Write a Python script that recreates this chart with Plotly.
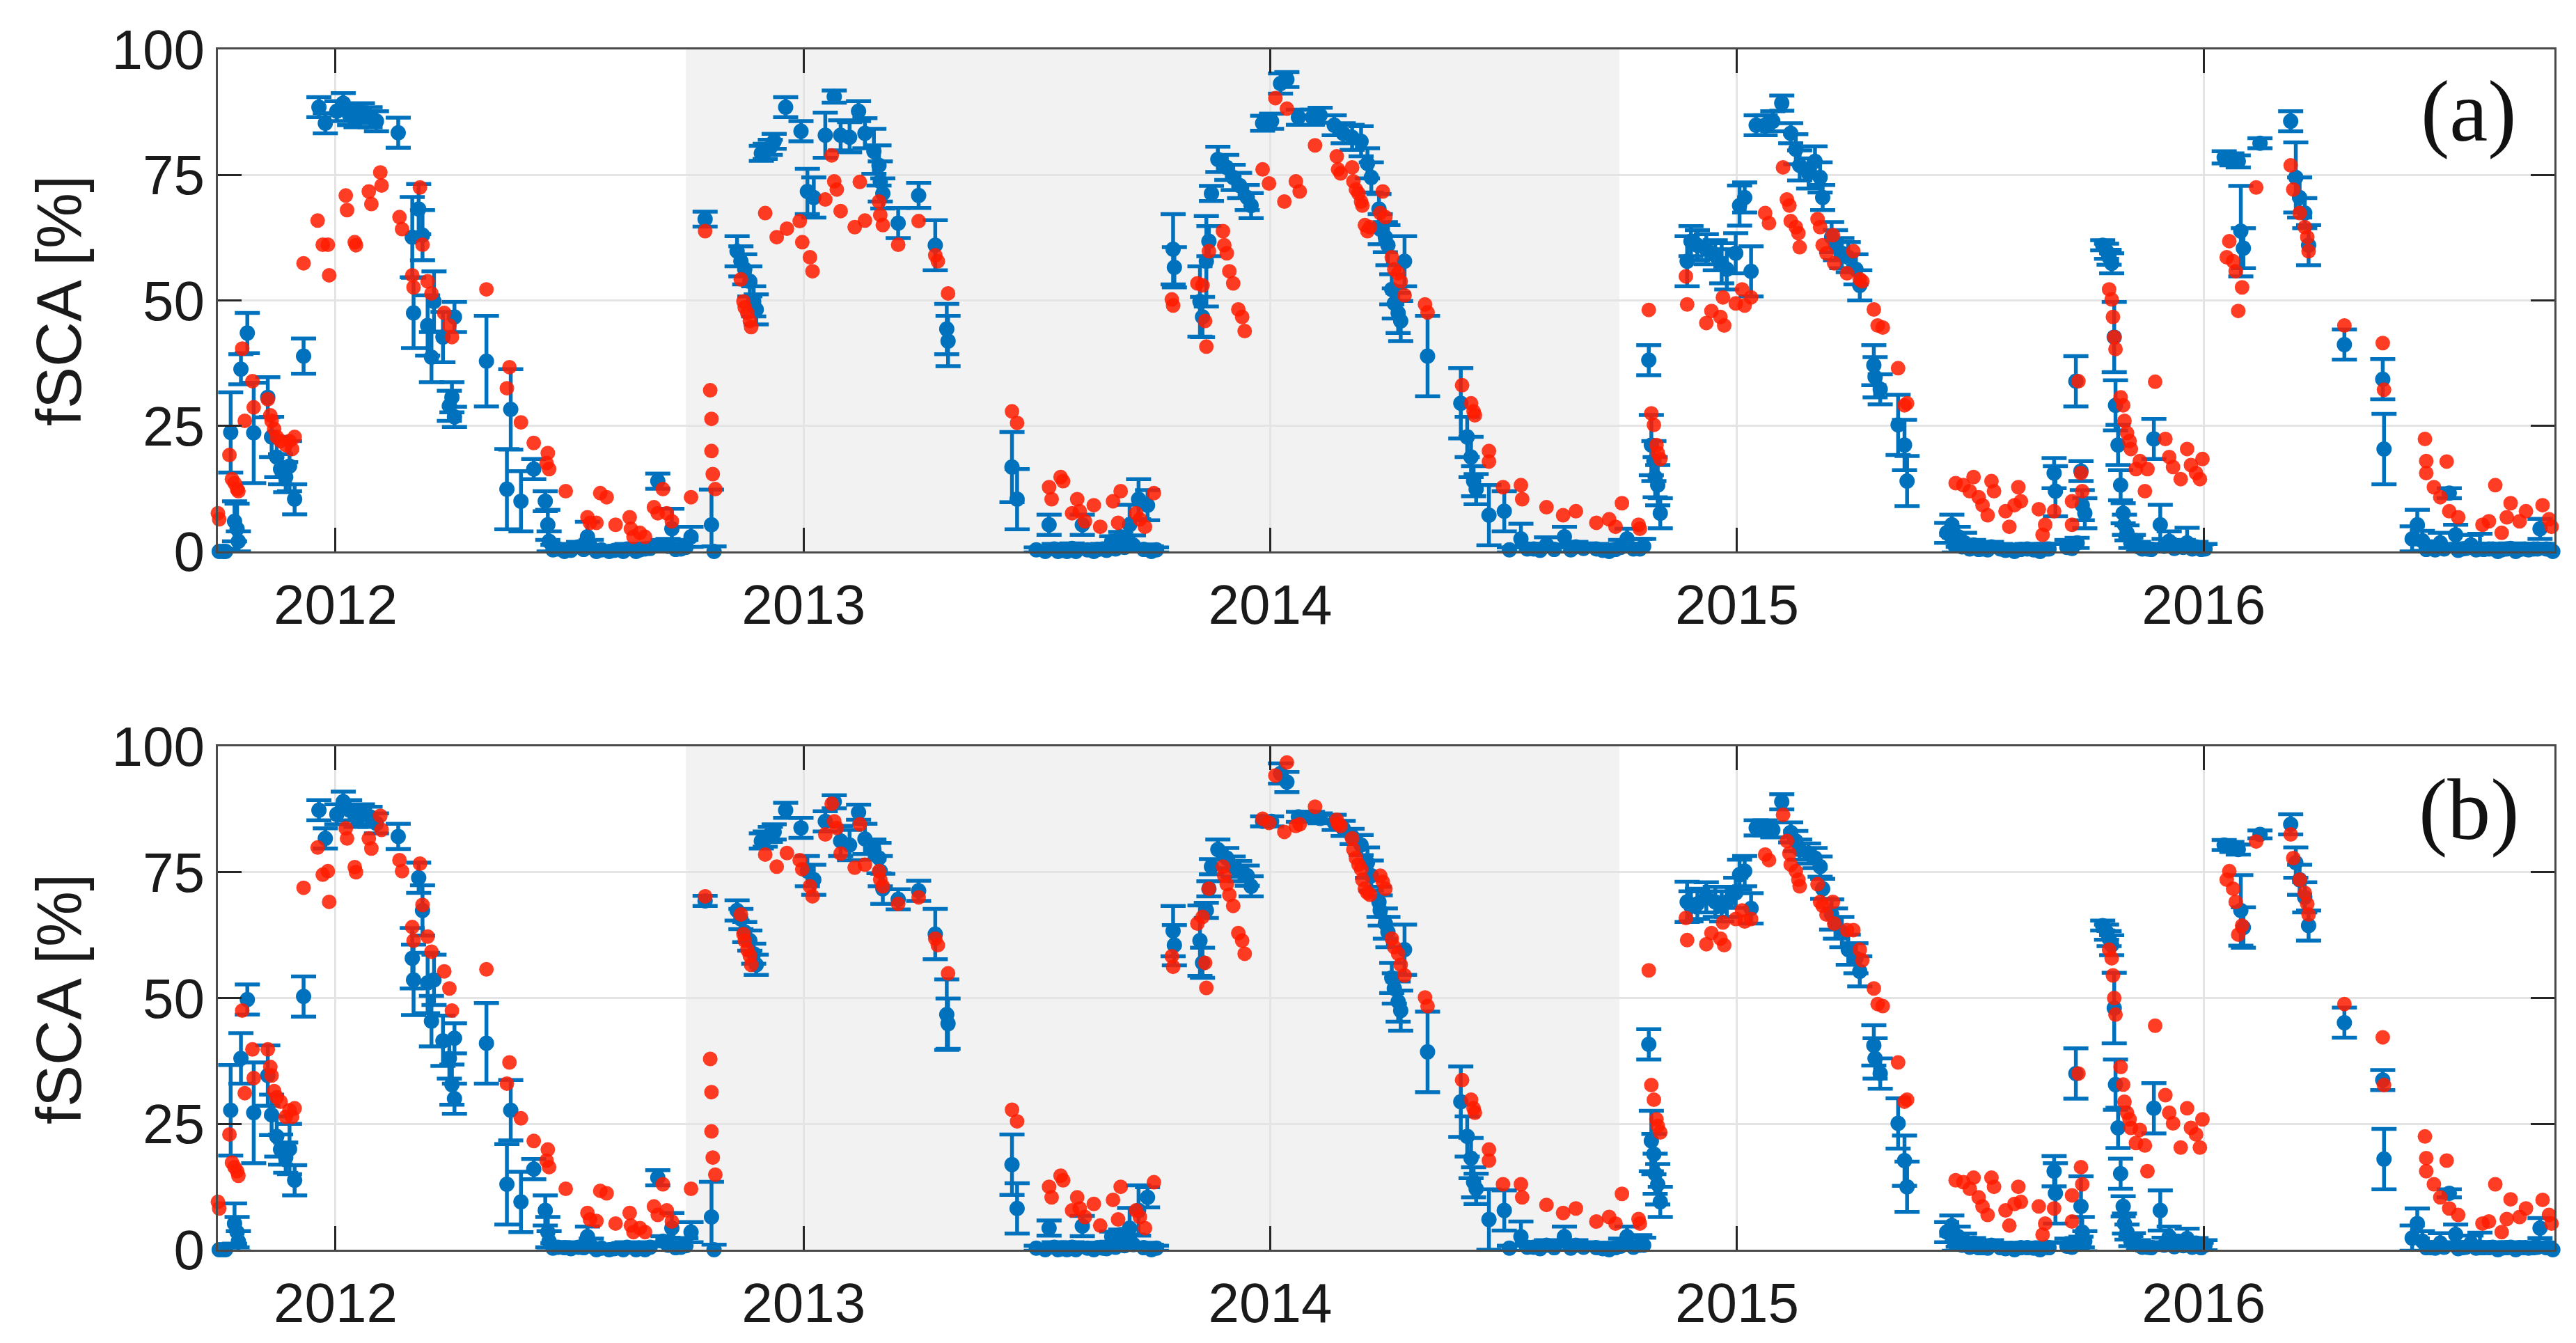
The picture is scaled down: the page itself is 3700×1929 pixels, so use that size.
import pandas as pd
import plotly.graph_objects as go

START = pd.Timestamp("2011-10-01")

# Observation dates (days since 2011-10-01) for the reference product (blue, with error bars)
blue_day = [1, 4, 6, 10, 13, 15, 16, 18, 23, 28, 39, 42, 46, 49, 53, 56, 60, 67, 79, 84,
            93, 98, 103, 108, 113, 119, 124, 141, 152, 153, 157, 160, 164, 167, 169, 176, 181, 183, 185, 185,
            210, 226, 229, 237, 247, 256, 258, 259, 271, 282, 289, 296, 306, 317, 327, 334, 344, 348, 355, 362,
            370, 381, 386, 388, 406, 409, 412, 416, 419, 421, 425, 428, 432, 435, 444, 456, 461, 466, 475, 482,
            487, 494, 501, 506, 513, 517, 518, 520, 532, 548, 561, 570, 571, 621, 625, 647, 650, 657, 664, 671,
            676, 685, 692, 699, 706, 713, 720, 727, 730, 747, 748, 768, 770, 773, 775, 777, 782, 789, 794, 799,
            805, 808, 817, 824, 831, 836, 845, 856, 862, 873, 880, 887, 894, 899, 902, 908, 909, 913, 915, 918,
            920, 923, 925, 928, 946, 972, 977, 980, 982, 984, 994, 1006, 1019, 1029, 1039, 1053, 1062, 1078, 1088, 1102,
            1112, 1119, 1121, 1123, 1124, 1126, 1128, 1149, 1152, 1157, 1164, 1171, 1176, 1180, 1187, 1190, 1194, 1199, 1203, 1210,
            1216, 1223, 1230, 1234, 1237, 1244, 1249, 1253, 1255, 1262, 1265, 1270, 1275, 1281, 1284, 1295, 1296, 1300, 1314, 1319,
            1321, 1356, 1361, 1366, 1373, 1380, 1387, 1394, 1405, 1415, 1425, 1432, 1436, 1437, 1453, 1454, 1457, 1458, 1460, 1474,
            1477, 1479, 1481, 1483, 1484, 1486, 1488, 1490, 1491, 1493, 1496, 1502, 1509, 1514, 1519, 1526, 1533, 1540, 1547, 1554,
            1569, 1575, 1580, 1582, 1584, 1597, 1621, 1625, 1628, 1632, 1635, 1663, 1693, 1694, 1720, 1724, 1731, 1738, 1745, 1750,
            1755, 1762, 1769, 1776, 1783, 1790, 1797, 1804, 1811, 1816, 1821, 1826,
            # near-zero summer observations
            262, 266, 276, 286, 292, 300, 310, 320, 330, 338, 352, 358, 366,
            640, 654, 660, 668, 680, 688, 695, 702, 709, 716, 724, 734,
            1010, 1024, 1034, 1045, 1058, 1068, 1083, 1093, 1097, 1107, 1115,
            1352, 1358, 1364, 1370, 1377, 1384, 1398, 1410, 1420, 1430, 1446, 1450,
            1498, 1505, 1512, 1522, 1530, 1537, 1544, 1551,
            1716, 1727, 1734, 1741, 1752, 1758, 1766, 1772, 1779, 1786, 1793, 1800, 1807, 1814, 1824]

blue_a = [0, 0, 0, 23.7, 6, 4.5, 2, 36.3, 43.5, 23.6, 30.7, 22.8, 18.8, 16.4, 14.8, 17, 10.4, 38.9, 88.5, 85.3,
          87.7, 89.3, 86.9, 86.5, 87.3, 86.5, 85.7, 83.4, 62.6, 47.5, 68.2, 63, 45, 38.7, 49.8, 42.7, 29, 30.7, 26.8, 46.7,
          37.9, 12.4, 28.3, 10, 16.4, 10, 5.3, 2, 0, 0.9, 2.9, 0, 0, 0, 0, 0.5, 14, 1.3, 4.5, 0.5,
          2.9, 66.2, 5.3, 0, 59.8, 57.8, 56.2, 53.8, 49.8, 48.2, 79.3, 79.7, 80.5, 81.7, 88.5, 83.7, 71.7, 70.5, 82.9, 90.6,
          82.9, 82.5, 87.7, 83.3, 79.7, 76.9, 73.7, 71.3, 65.4, 70.9, 61, 44.3, 41.9, 16.8, 10.4, 0, 5.3, 0, 0, 0,
          5.3, 0, 0.5, 2, 2.9, 5.3, 10.4, 9.2, 0, 60.2, 56.6, 49.8, 46.7, 57.8, 61.8, 71.3, 78.1, 76.5, 74.5, 72.9,
          70.5, 68.9, 85.3, 85.7, 93.2, 94, 86.5, 86.5, 86.9, 84.9, 83.3, 82.5, 81.7, 77.3, 74.5, 68.2, 64.2, 62.6, 61, 52.2,
          49.4, 47.5, 45.9, 57.8, 38.9, 29.5, 22.8, 18.8, 14, 12.4, 7.2, 8, 2.5, 0.5, 1.3, 2.9, 0.9, 0.5, 0, 2.5,
          0.5, 38.1, 21.2, 18, 14.8, 13.2, 7.6, 57.8, 61.8, 61, 60.2, 59, 57.4, 56.2, 59.4, 68.9, 70.5, 55.8, 84.9, 84.9,
          85.7, 89.3, 83.3, 80.1, 76.9, 75.3, 77.7, 74.5, 70.5, 62.6, 61, 59.4, 58.6, 56.2, 53, 37.1, 34.7, 32.3, 25.2, 21.2,
          14, 5.3, 2.9, 1.7, 1.3, 0.5, 0.9, 0.5, 0, 0.5, 0, 0.5, 15.6, 12, 33.9, 1.7, 16, 9.2, 7.6, 61,
          59.8, 58.6, 57.4, 42.7, 29.1, 21.2, 13.2, 7.6, 5.3, 3.7, 1.7, 0.9, 0.5, 22.4, 5.3, 2, 0.9, 1.7, 0.9, 0.5,
          78.5, 78.1, 77.7, 63.8, 60.4, 81.3, 85.7, 74.5, 70.5, 67.4, 61, 41.2, 34.3, 20.4, 5.3, 2.1, 0.9, 1.7, 11.6, 3.3,
          0.5, 1.3, 0.5, 0.5, 0, 0.5, 0, 0.5, 0.5, 4.5, 0.5, 0,
          0.3, 0.5, 0.2, 0.4, 0.8, 0.3, 0.2, 0.5, 0.3, 0.6, 1.0, 0.4, 0.8,
          0.3, 0.5, 0.2, 0.6, 0.3, 0.4, 0.2, 0.5, 0.8, 1.2, 0.4, 0.3,
          0.3, 0.5, 0.2, 0.4, 0.3, 0.6, 0.2, 0.4, 0.8, 0.5, 1.0,
          3.7, 1.3, 0.9, 0.5, 0.4, 0.3, 0.2, 0.4, 0.3, 0.5, 0.8, 0.6,
          1.3, 0.5, 0.4, 1.0, 0.6, 0.8, 0.5, 0.4,
          2.5, 0.4, 0.3, 0.5, 0.2, 0.6, 0.3, 0.4, 0.5, 0.3, 0.6, 0.4, 0.3, 0.5, 0.4]

blue_a_err = [0.5, 0.5, 0.5, 8, 4, 5, 2, 3, 4, 10, 4, 4, 4, 3, 3, 5, 3, 3.5, 2, 2,
              2, 2, 2, 2, 2, 2, 2, 3, 8, 7, 5, 5, 6, 5, 6, 5, 3, 3, 2, 3,
              9, 8, 8, 6, 2, 2, 3, 2, 1, 1, 3, 1, 1, 1, 1, 1, 1.5, 1, 4, 1,
              2, 1.5, 7, 1, 3, 3, 3, 3, 3, 3, 1.5, 1.5, 1.5, 1.5, 2, 2, 4.5, 4, 4.5, 1.2,
              3, 3, 2, 3, 4.5, 4, 4, 3, 3, 2.5, 5, 5, 5, 7, 6, 1, 2, 1, 1, 1,
              2, 1, 1, 1, 1, 4, 4, 3, 1, 7, 4, 7, 4, 9, 3, 1.5, 2.5, 2.5, 2.5, 2.5,
              2.5, 2.5, 1.5, 1.5, 2, 1.5, 1.5, 1.5, 1.5, 2, 2, 2.5, 3, 3, 3, 3, 3, 3, 4, 3,
              3, 4, 4, 5, 8, 7, 4, 4, 3, 3, 6, 4, 3, 1, 1.5, 2, 1, 1, 1, 2,
              2, 3, 6, 4, 4, 4, 3, 5, 3, 3, 3, 3, 4, 4, 4, 4, 3, 5, 2, 2,
              2, 1.5, 2, 3, 3, 3, 3, 3, 2.5, 3, 3, 3, 3, 3, 3, 4, 4, 3, 6, 5,
              5, 2, 2, 2, 1, 1, 1, 1, 1, 1, 1, 1, 3, 5, 5, 1, 2, 3, 3, 1,
              1.5, 1.5, 2, 7, 5, 4, 3, 2, 2, 1.5, 1, 1, 1, 4, 4, 2, 1, 3, 1, 1,
              1.2, 1.2, 1.2, 9, 4, 1, 2, 7, 4, 3, 4, 3, 4, 7, 3, 2, 1, 2, 1, 2,
              1, 2, 3, 1, 1, 1, 1, 1, 1, 2, 1, 1,
              1, 1, 0.5, 1, 1.5, 0.5, 0.5, 1, 0.5, 1, 1.5, 1, 1.5,
              0.5, 1, 0.5, 1, 0.5, 1, 0.5, 1, 1.5, 2, 1, 0.5,
              0.5, 1, 0.5, 1, 0.5, 1, 0.5, 1, 1.5, 1, 1.5,
              2, 1.5, 1, 1, 0.5, 0.5, 0.5, 1, 0.5, 1, 1.5, 1,
              2, 1, 1, 1.5, 1, 1.5, 1, 1,
              2.5, 1, 0.5, 1, 0.5, 1, 0.5, 1, 1, 0.5, 1, 1, 0.5, 1, 1]

blue_b = [0, 0, 0, 27.7, 5.2, 3.5, 1.7, 38, 49.7, 27.2, 34.6, 26.8, 22.5, 19.9, 18.3, 20, 13.8, 50.3, 87.3, 81.7,
          86.5, 89, 87.3, 86, 86.5, 86, 84.7, 82.1, 57.9, 53.6, 73.9, 67.4, 53, 45.4, 53.6, 41.5, 38, 32.8, 30, 42,
          41, 13, 27.7, 9.5, 16, 7.8, 3.5, 1.7, 0.4, 0.5, 2.6, 0, 0, 0, 0, 0, 14.3, 1.7, 4.3, 0.5,
          3.5, 69.3, 6.5, 0, 67.4, 65.7, 63.1, 61.4, 58.8, 56.6, 81.2, 81.6, 82.5, 83, 87.3, 83.8, 75.2, 73.5, 85.1, 89,
          81.2, 80.4, 86.9, 81.6, 79.5, 77.8, 75.2, 71.7, 69.6, 71.3, 62.7, 46.7, 44.9, 16.9, 8.2, 0, 4.3, 0, 0, 0,
          4.7, 0, 0.3, 2.6, 3, 4.3, 7.8, 10.4, 0, 63.3, 60.5, 61.4, 57, 67.4, 71.7, 76.1, 79.5, 77.8, 76.1, 75.2,
          74.3, 72.2, 85.1, 85.1, 94.6, 92.9, 86, 86, 85.7, 84.9, 83.7, 82.1, 80.4, 76.9, 74.3, 69.1, 67.4, 64.8, 63.1, 54,
          51.9, 49.3, 47.5, 59.6, 39.3, 29.4, 22.5, 18.2, 13.4, 12.1, 6, 7.8, 2.6, 0.5, 0.9, 2.6, 0.9, 0.4, 0, 2.6,
          0.9, 40.8, 21.6, 19, 15.1, 13, 9.5, 69.1, 68.2, 68.7, 70, 69.1, 68.2, 69.1, 70.9, 74.5, 75.2, 67.8, 83.8, 83.8,
          83.4, 89, 82.9, 81.2, 79.5, 78.7, 77.8, 76.1, 71.7, 66.6, 64.8, 63.1, 59.6, 57.9, 55.3, 40.6, 38, 35, 25.1, 17.7,
          12.5, 4.8, 2.6, 1.7, 1.3, 0.4, 0.9, 0.4, 0, 0.4, 0, 0.4, 15.6, 11.2, 35, 1.3, 8.6, 3.5, 1.7, 64.4,
          63.1, 61.8, 60.5, 48, 32.8, 24.2, 15.1, 8.6, 5.2, 3.5, 1.7, 0.9, 0.5, 28.1, 7.8, 2.6, 1.7, 2.2, 1.3, 0.9,
          80.4, 80, 79.5, 67.4, 64, 82.5, 84.5, 76.9, 73.5, 70, 64.4, 45.1, 33.7, 18, 5.2, 1.7, 0.4, 1.3, 11.2, 3,
          0.4, 1.3, 0.4, 0.4, 0, 0.4, 0, 0.4, 0.4, 4.3, 0.4, 0,
          0.3, 0.5, 0.2, 0.4, 0.7, 0.3, 0.2, 0.5, 0.3, 0.5, 0.9, 0.4, 0.8,
          0.3, 0.5, 0.2, 0.5, 0.3, 0.4, 0.2, 0.5, 0.8, 1.0, 0.4, 0.3,
          0.3, 0.5, 0.2, 0.4, 0.3, 0.5, 0.2, 0.4, 0.7, 0.5, 0.9,
          3.5, 1.3, 0.9, 0.5, 0.4, 0.3, 0.2, 0.4, 0.3, 0.5, 0.7, 0.5,
          1.3, 0.5, 0.4, 0.9, 0.6, 0.8, 0.5, 0.4,
          2.3, 0.4, 0.3, 0.5, 0.2, 0.5, 0.3, 0.4, 0.5, 0.3, 0.5, 0.4, 0.3, 0.5, 0.4]

blue_b_err = [0.5, 0.5, 0.5, 9, 4, 3, 2, 5, 3, 10, 6, 4, 4, 3, 3, 5, 3, 4, 2, 2,
              2, 2, 2, 2, 2, 2, 2, 2.5, 6, 7, 3, 5, 6, 5, 5, 5, 4, 4, 3, 3,
              8, 8, 6, 6, 2, 3, 3, 2, 1, 1, 2, 1, 1, 1, 1, 1, 1.5, 1, 3, 1,
              2, 1, 7, 1, 2, 2, 2, 2, 2, 2, 1.5, 1.5, 1.5, 1.5, 1.5, 2, 3, 3, 2, 1.3,
              3, 3, 1.5, 3, 2, 3, 3, 3, 2, 2, 5, 7, 5, 6, 5, 1, 1.5, 1, 1, 1,
              2, 1, 1, 1, 1, 4, 5, 2, 1, 5, 4, 7, 3, 1.5, 1.5, 1.5, 2, 2, 2, 2,
              2, 2, 1, 1, 2, 2, 1, 1, 1, 1.5, 1.5, 1.5, 2, 3, 3, 3, 3, 3, 3, 3,
              3, 4, 4, 5, 8, 7, 4, 4, 3, 3, 6, 4, 3, 1, 1, 2, 1, 1, 1, 2,
              2, 3, 6, 4, 4, 4, 3, 4, 3, 3, 3, 3, 3, 3, 3, 3, 3, 3, 1.5, 1.5,
              1.5, 1.5, 2, 2, 2, 2, 2, 2, 2, 3, 3, 3, 3, 3, 3, 4, 4, 3, 5, 5,
              5, 2, 2, 1.5, 1, 1, 1, 1, 1, 1, 1, 1, 3, 6, 5, 1, 6, 3, 2, 1,
              1.5, 1.5, 2, 7, 5, 4, 3, 2, 2, 1.5, 1, 1, 1, 5, 4, 2, 1, 2, 1, 1,
              1, 1, 1, 7, 4, 0.8, 2, 3, 3, 3, 3, 3, 2, 6, 3, 2, 1, 2, 0.8, 2,
              1, 1.5, 3, 1, 1, 1, 1, 1, 1, 2, 1, 1,
              1, 1, 0.5, 1, 1.5, 0.5, 0.5, 1, 0.5, 1, 1.5, 1, 1.5,
              0.5, 1, 0.5, 1, 0.5, 1, 0.5, 1, 1.5, 2, 1, 0.5,
              0.5, 1, 0.5, 1, 0.5, 1, 0.5, 1, 1.5, 1, 1.5,
              2, 1.5, 1, 1, 0.5, 0.5, 0.5, 1, 0.5, 1, 1.5, 1,
              2, 1, 1, 1.5, 1, 1.5, 1, 1,
              2.5, 1, 0.5, 1, 0.5, 1, 0.5, 1, 1, 0.5, 1, 1, 0.5, 1, 1]

# Observation dates (days since 2011-10-01) for the compared product (red)
red_day = [0, 1, 9, 11, 13, 15, 16, 19, 21, 27, 28, 39, 41, 42, 44, 46, 49, 53, 56, 58,
           60, 67, 78, 82, 86, 87, 100, 101, 107, 108, 118, 120, 127, 128, 142, 144, 152, 153, 158, 160,
           164, 167, 177, 181, 183, 210, 226, 228, 237, 247, 257, 258, 259, 272, 289, 291, 296, 299, 304, 311,
           322, 323, 325, 330, 334, 341, 344, 348, 351, 355, 370, 381, 385, 386, 386, 387, 389, 409, 411, 412,
           414, 416, 417, 428, 437, 445, 455, 457, 463, 465, 475, 480, 482, 484, 487, 498, 502, 506, 517, 518,
           520, 532, 548, 561, 563, 571, 621, 625, 650, 652, 659, 661, 668, 672, 674, 678, 685, 690, 700, 704,
           706, 718, 721, 725, 732, 746, 747, 766, 770, 772, 773, 775, 786, 787, 789, 791, 794, 798, 801, 803,
           817, 822, 827, 834, 836, 843, 846, 858, 875, 876, 878, 887, 888, 890, 892, 894, 895, 897, 899, 901,
           909, 911, 913, 918, 920, 923, 925, 928, 944, 946, 973, 980, 982, 983, 994, 994, 1005, 1019, 1020, 1039,
           1052, 1062, 1078, 1088, 1093, 1098, 1111, 1112, 1119, 1121, 1123, 1125, 1126, 1128, 1148, 1149, 1164, 1168, 1175, 1177,
           1178, 1187, 1192, 1194, 1199, 1210, 1213, 1224, 1227, 1229, 1230, 1234, 1236, 1237, 1251, 1253, 1255, 1258, 1263, 1264,
           1274, 1279, 1284, 1286, 1295, 1298, 1302, 1314, 1319, 1321, 1359, 1365, 1370, 1373, 1377, 1380, 1384, 1387, 1389, 1398,
           1401, 1405, 1408, 1410, 1424, 1427, 1429, 1436, 1450, 1450, 1455, 1457, 1458, 1479, 1481, 1482, 1483, 1484, 1488, 1490,
           1491, 1493, 1495, 1496, 1500, 1503, 1507, 1509, 1515, 1523, 1526, 1529, 1535, 1540, 1543, 1547, 1550, 1552, 1571, 1573,
           1576, 1578, 1580, 1583, 1594, 1621, 1623, 1628, 1632, 1634, 1635, 1663, 1693, 1694, 1726, 1727, 1727, 1733, 1738, 1743,
           1745, 1752, 1771, 1776, 1781, 1786, 1790, 1793, 1800, 1805, 1818, 1823, 1825]

red_a = [7.6, 6.4, 19.2, 14.4, 13.6, 12.4, 12, 40.4, 26, 33.9, 28.7, 30.3, 27.1, 26, 24.4, 22.8, 22, 21.2, 22, 20.4,
         22.8, 57.4, 65.9, 61.1, 61.1, 55, 70.9, 68, 61.6, 61, 71.7, 69.2, 75.5, 72.9, 66.6, 64.2, 55, 52.6, 72.5, 61.1,
         53.8, 51.4, 47.5, 45, 42.7, 52.2, 32.5, 36.7, 25.7, 21.6, 17.6, 19.6, 16.4, 12, 6.8, 5.7, 5.7, 11.6, 10.8, 5.3,
         6.8, 4.5, 2.9, 3.7, 2.9, 8.8, 7.6, 12.4, 7.6, 6, 10.8, 63.8, 32.1, 26.4, 20, 15.4, 12.4, 54.2, 49.8, 48.6,
         47.5, 45.9, 44.7, 67.4, 62.6, 64.3, 65.8, 61.6, 58.6, 55.8, 70.1, 78.9, 73.7, 72.1, 67.8, 64.6, 73.6, 65.9, 69.7, 67,
         65, 61.1, 65.8, 59, 57.8, 51.4, 27.9, 25.6, 12.8, 10.4, 14.8, 14, 7.6, 10.4, 8, 6, 9.2, 4.9, 10, 5.7,
         12, 7.6, 6.4, 4.9, 11.6, 50.2, 49, 53.4, 53, 45.9, 40.8, 59.8, 63.8, 61, 59.4, 55.8, 53.4, 48.2, 46.7, 43.9,
         76.1, 73.3, 90.3, 69.7, 88.2, 73.7, 71.7, 80.9, 78.7, 76.1, 75.3, 76.5, 73.7, 72.1, 71.3, 69.7, 68.9, 65, 63.8, 64.6,
         67.4, 71.7, 66.6, 58.6, 56.2, 55.4, 53.8, 51, 49.2, 47.6, 33.1, 29.5, 27.9, 27.1, 17.9, 20, 12.8, 13.2, 10.4, 8.8,
         7.2, 8, 5.7, 6.4, 4.9, 9.6, 5.3, 4.5, 48.1, 27.5, 25.2, 21.2, 19.6, 18.4, 54.8, 49.2, 45.5, 47.9, 46.7, 50.6,
         45, 49.4, 52.2, 49, 50.6, 67.4, 65.4, 76.5, 70.1, 68.9, 65.8, 64.6, 63.4, 60.6, 66.2, 64.6, 61, 59.4, 63, 57.4,
         55.4, 59.8, 54.2, 53.8, 48.2, 45, 44.6, 36.5, 29.1, 29.5, 13.6, 13.2, 12, 14.8, 10.8, 9.2, 7.2, 14, 12, 8,
         4.9, 9.2, 12.8, 10, 8.4, 3.3, 5.3, 8, 5.3, 10, 33.9, 15.6, 12, 52.2, 50.2, 46.7, 42.7, 40.3, 30.7, 29.1,
         26, 23.6, 22, 20.4, 16.4, 18, 12, 16.4, 33.8, 22.4, 18.8, 16.8, 14.4, 20.4, 17.2, 15.6, 14.4, 18.4, 58.6, 61.8,
         57.8, 55.8, 47.9, 52.6, 72.5, 76.9, 72.1, 67.4, 64.6, 62.6, 59.8, 45, 41.5, 32.2, 22.4, 18, 15.6, 12.8, 10.8, 17.9,
         8, 6.8, 5.3, 6, 13.2, 3.7, 6.8, 9.6, 6, 8, 9.2, 6.4, 4.9]

red_b = [9.5, 8.2, 22.9, 17.3, 16.4, 15.6, 14.7, 47.5, 31.1, 39.8, 34.1, 39.8, 36.3, 34.6, 31.5, 30.3, 29.4, 26.4, 27.7, 26.4,
         28.1, 71.9, 79.9, 74.5, 75.2, 69.1, 83.7, 81.7, 76, 75, 81.7, 79.7, 86.2, 83.4, 77.4, 75.2, 64.1, 61.4, 76.7, 68.5,
         62.2, 59.2, 55.3, 51.9, 47.5, 55.7, 33, 37.2, 26.1, 21.6, 17.7, 19.9, 16.4, 12.1, 7.3, 6, 5.7, 11.7, 11.2, 5.2,
         7.3, 4.8, 3.5, 4.3, 3.5, 8.6, 6.9, 13, 7.8, 5.6, 12.1, 70.2, 37.9, 31.3, 23.5, 18.3, 14.9, 66.6, 62.7, 61.4,
         59.6, 58.4, 56.6, 78.5, 76.1, 78.8, 77.4, 75.6, 72.2, 70.2, 82.5, 88.6, 85.1, 83.8, 78.7, 75.9, 84.5, 76.5, 75.2, 73.5,
         72.2, 68.7, 70, 61.8, 60.5, 54.9, 27.8, 25.5, 12.5, 10.4, 14.7, 13.8, 7.8, 10.4, 8.2, 6.5, 9.1, 4.8, 9.9, 6,
         12.5, 7.8, 6.5, 4.3, 13.4, 58.3, 56.2, 64.8, 66.1, 57, 52, 71.7, 76.1, 74.3, 72.6, 70.5, 68.3, 62.9, 61.4, 58.8,
         85.6, 84.8, 94.2, 83, 96.8, 84.2, 84.5, 88, 85.4, 84.6, 84.2, 81.7, 79.5, 77.8, 76.5, 75.6, 73.5, 71.7, 70.9, 70.5,
         74.3, 73.1, 71.7, 61.8, 60.1, 58.8, 56.6, 54.5, 50.1, 48.4, 33.7, 29.8, 28.1, 27.2, 17.7, 19.9, 13, 13, 10.4, 8.9,
         7.3, 8.2, 5.6, 6.5, 5.2, 11.1, 6.1, 5.2, 55.5, 32.7, 29.8, 25.9, 24.6, 23.3, 65.9, 61.5, 60.7, 62.9, 61.8, 65,
         60.5, 65.7, 67.4, 65.2, 65.7, 78.5, 77.4, 86.4, 81.2, 78.7, 76.5, 75.2, 73.5, 72.2, 72.6, 69.1, 68.3, 66.6, 69.1, 64.8,
         63.5, 63.5, 59.6, 57.5, 51.9, 48.8, 48.4, 37.2, 29.4, 29.8, 13.8, 13.4, 12.1, 14.3, 10.4, 8.6, 6.9, 14.3, 12.5, 7.8,
         4.8, 9.1, 12.5, 9.5, 8.6, 3, 5.2, 8.2, 5.6, 10.8, 35, 16.4, 13, 59.6, 57.9, 54.5, 50, 46.7, 36.3, 32.8,
         29.4, 27.2, 25.9, 24.2, 21.2, 23.8, 20.7, 15.6, 44.5, 30.7, 27.2, 25.1, 20.3, 28.1, 24.2, 22.9, 20.3, 25.9, 73.5, 75.2,
         71.7, 69.1, 62.6, 64.4, 81.1, 82.5, 77.8, 73.5, 70.9, 68.7, 66.6, 48.8, 42.2, 32.7, 22.5, 18.2, 15.6, 13, 10.4, 17.7,
         8.2, 6.9, 5.2, 5.6, 13, 3.5, 6.1, 10, 6.5, 8.2, 9.9, 6.9, 5.2]

year_ticks = ["2012-01-01", "2013-01-01", "2014-01-01", "2015-01-01", "2016-01-01"]
year_labels = ["2012", "2013", "2014", "2015", "2016"]
y_ticks = [0, 25, 50, 75, 100]
x_range = ["2011-10-01", "2016-10-01 06:00"]
shaded_period = ["2012-10-01", "2014-10-01"]
panel_labels = ["(a)", "(b)"]
y_title = "fSCA [%]"


def to_dates(days):
    return [START + pd.Timedelta(days=int(d)) for d in days]


blue_dates = to_dates(blue_day)
red_dates = to_dates(red_day)

W, H = 3700, 1929
BLUE = "#0072BD"
RED = "rgba(255,28,0,0.86)"
SANS = "Liberation Sans, Arial, Helvetica, sans-serif"
AXIS_FONT = dict(family=SANS, size=80, color="#1a1a1a")

fig = go.Figure()
panels = [("x", "y", blue_a, blue_a_err, red_a), ("x2", "y2", blue_b, blue_b_err, red_b)]
for xa, ya, bv, be, rv in panels:
    fig.add_trace(go.Scatter(
        x=blue_dates, y=bv, mode="markers", xaxis=xa, yaxis=ya, showlegend=False,
        marker=dict(color=BLUE, size=22, line=dict(width=0)),
        error_y=dict(type="data", array=be, visible=True, color=BLUE, thickness=5.5, width=18),
        cliponaxis=False,
    ))
    fig.add_trace(go.Scatter(
        x=red_dates, y=rv, mode="markers", xaxis=xa, yaxis=ya, showlegend=False,
        marker=dict(color=RED, size=21, line=dict(width=0)),
        cliponaxis=False,
    ))

common_x = dict(
    type="date", range=x_range, tickvals=year_ticks, ticktext=year_labels,
    ticks="inside", ticklen=34, tickwidth=3, tickcolor="#262626",
    showline=True, linecolor="#4a4a4a", linewidth=3, mirror="ticks",
    showgrid=True, gridcolor="#e4e4e4", gridwidth=3, zeroline=False,
    tickfont=AXIS_FONT, ticklabelstandoff=5, automargin=False,
)
common_y = dict(
    range=[0, 100], tickvals=y_ticks, ticktext=[str(v) for v in y_ticks],
    ticks="inside", ticklen=34, tickwidth=3, tickcolor="#262626",
    showline=True, linecolor="#4a4a4a", linewidth=3, mirror="ticks",
    showgrid=True, gridcolor="#e4e4e4", gridwidth=3, zeroline=False,
    tickfont=AXIS_FONT, ticklabelstandoff=0, automargin=False,
)

xdom = [305 / W, 3661 / W]
title_font = dict(family=SANS, size=90, color="#1a1a1a")
serif_font = dict(family="Liberation Serif, DejaVu Serif, serif", size=124, color="#111111")
fig.update_layout(
    width=W, height=H, autosize=False,
    margin=dict(l=0, r=0, t=0, b=0, pad=0),
    paper_bgcolor="white", plot_bgcolor="white",
    xaxis=dict(domain=xdom, anchor="y", **common_x),
    yaxis=dict(domain=[1 - 784 / H, 1 - 63 / H], anchor="x", **common_y),
    xaxis2=dict(domain=xdom, anchor="y2", **common_x),
    yaxis2=dict(domain=[1 - 1787 / H, 1 - 1064 / H], anchor="x2", **common_y),
    shapes=[
        dict(type="rect", xref="x", yref="y domain", x0=shaded_period[0], x1=shaded_period[1], y0=0, y1=1,
             fillcolor="#f2f2f2", line=dict(width=0), layer="below"),
        dict(type="rect", xref="x2", yref="y2 domain", x0=shaded_period[0], x1=shaded_period[1], y0=0, y1=1,
             fillcolor="#f2f2f2", line=dict(width=0), layer="below"),
    ],
    annotations=[
        dict(text=y_title, xref="paper", yref="paper", x=77 / W, y=1 - 424 / H, textangle=-90,
             xanchor="center", yanchor="middle", showarrow=False, font=title_font),
        dict(text=y_title, xref="paper", yref="paper", x=77 / W, y=1 - 1427 / H, textangle=-90,
             xanchor="center", yanchor="middle", showarrow=False, font=title_font),
        dict(text=panel_labels[0], xref="paper", yref="paper", x=3538 / W, y=1 - 152 / H,
             xanchor="center", yanchor="middle", showarrow=False, font=serif_font),
        dict(text=panel_labels[1], xref="paper", yref="paper", x=3538 / W, y=1 - 1155 / H,
             xanchor="center", yanchor="middle", showarrow=False, font=serif_font),
    ],
)

fig.write_html("out.html")
